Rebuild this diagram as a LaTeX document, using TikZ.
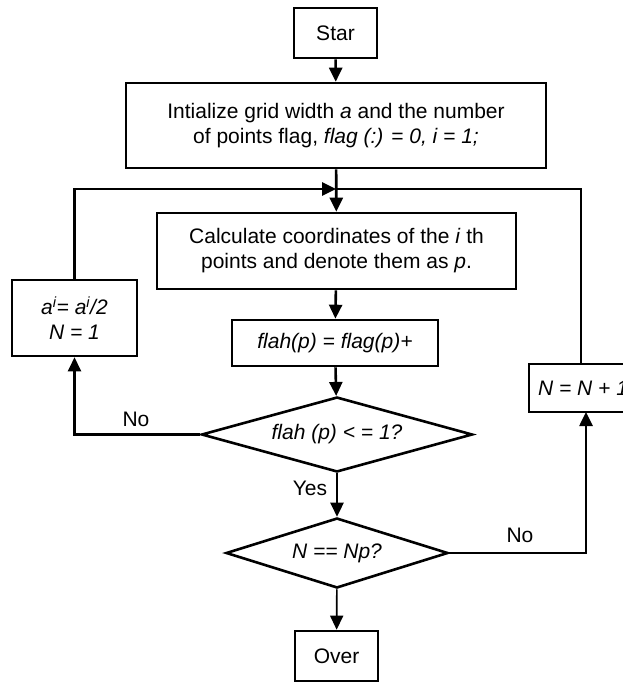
\documentclass[tikz,border=0pt]{standalone}
\usepackage{fontspec}
\setmainfont{Liberation Sans}
\usetikzlibrary{arrows.meta,shapes.geometric,positioning}
\begin{document}
\begin{tikzpicture}[x=1pt,y=-1pt,
  every node/.style={font=\fontsize{21}{25}\selectfont},
  box/.style={draw,line width=2.6pt,inner sep=0pt,align=center},
  dec/.style={draw,line width=2.6pt,shape=diamond,inner sep=0pt,aspect=3.6,align=center},
  conn/.style={line width=2.6pt,-{Triangle[length=14pt,width=13pt]}},
  thinconn/.style={line width=1.6pt,-{Triangle[length=14pt,width=13pt]}},
  plain/.style={line width=2.6pt},
  lbl/.style={inner sep=0pt}]
\useasboundingbox (0,0) rectangle (623,682);
\clip (0,0) rectangle (623,682);
\fill[white] (0,0) rectangle (623,682);

\node[box,minimum width=83pt,minimum height=50pt] (star) at (335.5,33) {Star};
\node[box,minimum width=420pt,minimum height=85pt] (init) at (336,125.5)
  {Intialize grid width \textit{a} and the number\\of points flag, \textit{flag (:) = 0, i = 1;}};
\node[box,minimum width=359pt,minimum height=76pt] (calc) at (336.5,251)
  {Calculate coordinates of the \textit{i} th\\points and denote them as \textit{p}.};
\node[box,minimum width=206pt,minimum height=46pt] (flah) at (335,343) {\textit{flah(p) = flag(p)+}};
\node[dec,minimum width=271pt,minimum height=75pt] (d1) at (337,434.5) {\textit{flah (p) < = 1?}};
\node[dec,minimum width=222pt,minimum height=70pt] (d2) at (337,553) {\textit{N == Np?}};
\node[box,minimum width=83pt,minimum height=50pt] (over) at (336.5,656) {Over};
\node[box,minimum width=125pt,minimum height=76pt] (half) at (74.5,318)
  {\textit{a\textsuperscript{i}= a\textsuperscript{i}/2}\\\textit{N = 1}};
\node[box,minimum width=104pt,minimum height=48pt] (inc) at (581,388) {\hspace*{4pt}\textit{N = N + 1}};

\coordinate (j) at (336,189);
\coordinate (incin) at (586,412);

\draw[conn] (star) -- (init);
\draw[conn] (init) -- (calc);
\draw[conn] (half.north) |- (j);
\draw[plain] (inc.north) |- (j);
\draw[conn] (calc) -- (flah);
\draw[conn] (flah) -- (d1);
\draw[conn] (d1.west) -| (half.south);
\draw[conn] (d1) -- (d2);
\draw[conn] (d2.east) -| (incin);
\draw[thinconn] (d2) -- (over);

\node[lbl] (nol) at (136,419) {No};
\node[lbl] (yes) at (310,488) {Yes};
\node[lbl] (nor) at (520,535) {No};
\end{tikzpicture}
\end{document}
